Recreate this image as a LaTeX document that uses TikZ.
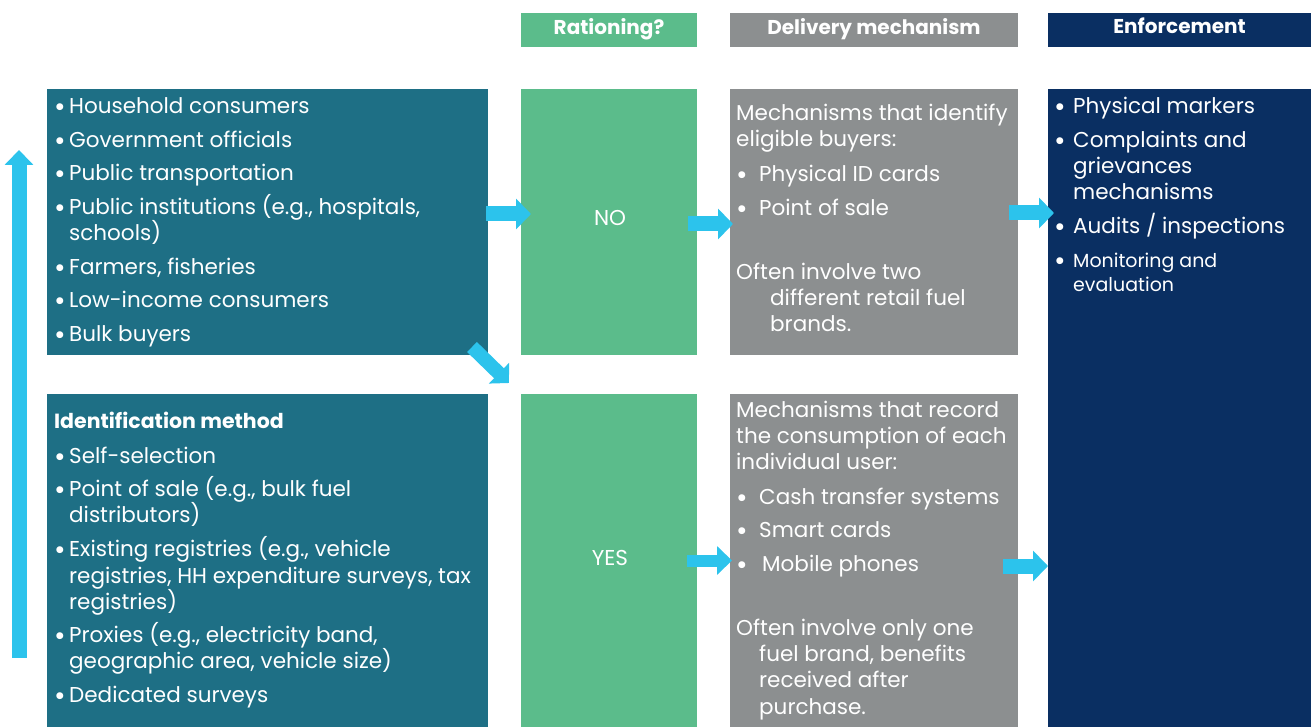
\documentclass[tikz,border=0pt]{standalone}
\usepackage{fontspec}
\setmainfont{Poppins}
\usetikzlibrary{arrows.meta}
\definecolor{cTeal}{HTML}{1E6F85}
\definecolor{cGreen}{HTML}{5BBC8B}
\definecolor{cGray}{HTML}{8C8F90}
\definecolor{cNavy}{HTML}{0A2F62}
\definecolor{cArrow}{HTML}{2CC3EC}
\newcommand\tline[4]{\node[txt] (#1) at (#2,#3) {#4};}
\newcommand\tbul[3]{\node[bul] (#1) at (#2,#3) {•};}
\begin{document}
\begin{tikzpicture}[x=1pt,y=-1pt,
  box/.style={anchor=north west, inner sep=0pt, outer sep=0pt, draw=none},
  txt/.style={anchor=mid west, inner sep=0pt, yshift=-5pt, text=white, font=\fontsize{21.5}{25}\selectfont},
  small/.style={font=\fontsize{19}{22}\selectfont},
  bul/.style={anchor=mid, inner sep=0pt, yshift=-8pt, text=white, font=\fontsize{28}{30}\selectfont},
  headbox/.style={box, minimum height=34pt},
  headtxt/.style={anchor=mid, inner sep=0pt, text=white, font=\fontsize{20}{24}\selectfont\bfseries},
  fat/.style={draw=cArrow, line width=15pt, -{Triangle[width=30pt,length=15pt]}}]
\useasboundingbox (0,0) rectangle (1311,727);
% headers
\node[headbox, fill=cGreen, minimum width=176pt] (hR) at (521,13) {};
\node[headbox, fill=cGray, minimum width=288pt] (hD) at (730,13) {};
\node[headbox, fill=cNavy, minimum width=263pt] (hE) at (1048,13) {};
\node[headtxt] (hRt) at ([yshift=-2pt]hR.center) {Rationing?};
\node[headtxt] (hDt) at ([yshift=-2pt]hD.center) {Delivery mechanism};
\node[headtxt] (hEt) at ([yshift=-1pt]hE.center) {Enforcement};
% boxes
\node[box, fill=cTeal, minimum width=441pt, minimum height=266pt] (tl) at (47,89) {};
\node[box, fill=cTeal, minimum width=441pt, minimum height=333pt] (bl) at (47,394) {};
\node[box, fill=cGreen, minimum width=176pt, minimum height=266pt] (no) at (521,89) {};
\node[box, fill=cGreen, minimum width=176pt, minimum height=333pt] (yes) at (521,394) {};
\node[box, fill=cGray, minimum width=288pt, minimum height=266pt] (gt) at (730,89) {};
\node[box, fill=cGray, minimum width=288pt, minimum height=333pt] (gb) at (730,394) {};
\node[box, fill=cNavy, minimum width=263pt, minimum height=638pt] (nv) at (1048,89) {};
\node[anchor=mid, inner sep=0pt, yshift=-5pt, text=white, font=\fontsize{21.5}{25}\selectfont] (noT) at (610,218) {NO};
\node[anchor=mid, inner sep=0pt, yshift=-5pt, text=white, font=\fontsize{21.5}{25}\selectfont] (yesT) at (610,558) {YES};
% top left text
\tbul{b1}{60}{106}\tline{l1}{69}{106}{Household consumers}
\tbul{b2}{60}{140}\tline{l2}{69}{140}{Government officials}
\tbul{b3}{60}{173}\tline{l3}{69}{173}{Public transportation}
\tbul{b4}{60}{207}\tline{l4}{69}{207}{Public institutions (e.g., hospitals,}
\tline{l5}{69}{233}{schools)}
\tbul{b6}{60}{267}\tline{l6}{69}{267}{Farmers, fisheries}
\tbul{b7}{60}{300}\tline{l7}{69}{300}{Low-income consumers}
\tbul{b8}{60}{334}\tline{l8}{69}{334}{Bulk buyers}
% bottom left text
\node[txt, font=\fontsize{20.5}{24}\selectfont\bfseries] (m0) at (54,421) {Identification method};
\tbul{c1}{60}{456}\tline{m1}{69}{456}{Self-selection}
\tbul{c2}{60}{489}\tline{m2}{69}{489}{Point of sale (e.g., bulk fuel}
\tline{m3}{69}{515}{distributors)}
\tbul{c4}{60}{549}\tline{m4}{69}{549}{Existing registries (e.g., vehicle}
\tline{m5}{69}{576}{registries, HH expenditure surveys, tax}
\tline{m6}{69}{602}{registries)}
\tbul{c7}{60}{635}\tline{m7}{69}{635}{Proxies (e.g., electricity band,}
\tline{m8}{69}{661}{geographic area, vehicle size)}
\tbul{c9}{60}{695}\tline{m9}{69}{695}{Dedicated surveys}
% gray top text
\tline{g1}{736}{113}{Mechanisms that identify}
\tline{g2}{736}{139}{eligible buyers:}
\tbul{d3}{742}{174}\tline{g3}{759}{174}{Physical ID cards}
\tbul{d4}{742}{208}\tline{g4}{759}{208}{Point of sale}
\tline{g5}{736}{272}{Often involve two}
\tline{g6}{770}{298}{different retail fuel}
\tline{g7}{770}{324}{brands.}
% gray bottom text
\tline{h1}{736}{410}{Mechanisms that record}
\tline{h2}{736}{436}{the consumption of each}
\tline{h3}{736}{462}{individual user:}
\tbul{e4}{742}{497}\tline{h4}{759}{497}{Cash transfer systems}
\tbul{e5}{742}{530}\tline{h5}{759}{530}{Smart cards}
\tbul{e6}{742}{564}\tline{h6}{762}{564}{Mobile phones}
\tline{h7}{736}{628}{Often involve only one}
\tline{h8}{759}{654}{fuel brand, benefits}
\tline{h9}{759}{680}{received after}
\tline{h10}{759}{707}{purchase.}
% navy text
\tbul{f1}{1060}{106}\tline{n1}{1073}{106}{Physical markers}
\tbul{f2}{1060}{140}\tline{n2}{1073}{140}{Complaints and}
\tline{n3}{1073}{166}{grievances}
\tline{n4}{1073}{192}{mechanisms}
\tbul{f5}{1060}{226}\tline{n5}{1073}{226}{Audits / inspections}
\tbul{f6}{1060}{260}\node[txt, small] (n6) at (1073,260) {Monitoring and};
\node[txt, small] (n7) at (1073,284) {evaluation};
% arrows
\draw[fat] ([shift={(-2,-8)}]tl.east) -- ([shift={(10,-8)}]no.west);
\draw[fat] ([shift={(-9,2)}]no.east) -- ([shift={(3,2)}]gt.west);
\coordinate (a3) at ([shift={(-9,-9)}]gt.east);
\draw[fat] (a3) -- ([xshift=6pt]nv.west |- a3);
\draw[fat, line width=12pt, -{Triangle[width=28pt,length=15pt]}] ([shift={(-10,0)}]yes.east) -- ([shift={(2,0)}]gb.west);
\coordinate (a5) at ([shift={(-15,5.5)}]gb.east);
\draw[fat] (a5) -- (nv.west |- a5);
\draw[fat, line width=14pt, -{Triangle[width=28pt,length=14pt]}] ([shift={(-16,-8)}]tl.south east) -- ([shift={(-12,-11)}]yes.north west);
\coordinate (v0) at (19,658);
\coordinate (v1) at (19,150);
\draw[fat, -{Triangle[width=28pt,length=15pt]}] (v0) -- (v1);
\end{tikzpicture}
\end{document}
